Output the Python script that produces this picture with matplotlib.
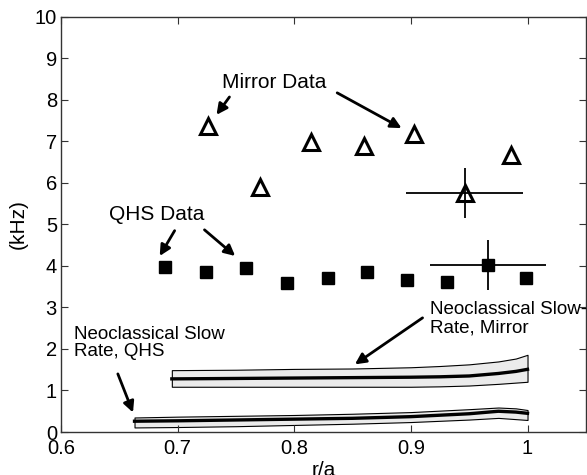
import matplotlib
matplotlib.use("Agg")
import matplotlib.pyplot as plt
import numpy as np

plt.rcParams['font.family'] = ['Liberation Sans', 'DejaVu Sans']

# Mirror data (open triangles)
mirror_x = [0.726, 0.771, 0.8145, 0.860, 0.903, 0.946, 0.9855]
mirror_y = [7.37, 5.90, 6.99, 6.89, 7.18, 5.76, 6.67]
# QHS data (filled squares)
qhs_x = [0.689, 0.7245, 0.759, 0.794, 0.829, 0.862, 0.897, 0.931, 0.966, 0.999]
qhs_y = [3.98, 3.86, 3.94, 3.58, 3.70, 3.86, 3.65, 3.61, 4.02, 3.72]

# representative error bars
mirror_err_x, mirror_err_y = [0.946], [5.76]
mirror_xerr, mirror_yerr = [0.05], [0.6]
qhs_err_x, qhs_err_y = [0.966], [4.02]
qhs_xerr, qhs_yerr = [0.05], [0.6]

# Neoclassical slow rate bands
band_m_x = [0.695, 0.75, 0.8, 0.85, 0.9, 0.925, 0.95, 0.975, 0.99, 1.0]
band_m_c = [1.28, 1.29, 1.30, 1.31, 1.32, 1.33, 1.35, 1.41, 1.46, 1.51]
band_m_hi = [1.49, 1.50, 1.52, 1.53, 1.56, 1.59, 1.63, 1.70, 1.77, 1.86]
band_m_lo = [1.09, 1.09, 1.09, 1.09, 1.09, 1.10, 1.12, 1.16, 1.19, 1.21]

band_q_x = [0.663, 0.7, 0.75, 0.8, 0.85, 0.9, 0.95, 0.975, 0.99, 1.0]
band_q_c = [0.26, 0.27, 0.29, 0.31, 0.33, 0.37, 0.44, 0.50, 0.48, 0.45]
band_q_hi = [0.35, 0.37, 0.39, 0.41, 0.44, 0.48, 0.55, 0.59, 0.57, 0.53]
band_q_lo = [0.11, 0.12, 0.14, 0.17, 0.20, 0.24, 0.30, 0.34, 0.31, 0.29]

xticks = [0.6, 0.7, 0.8, 0.9, 1.0]
xticklabels = ['0.6', '0.7', '0.8', '0.9', '1']
yticks = list(range(0, 11))

fig = plt.figure(figsize=(5.87, 4.75), dpi=100)
ax = fig.add_axes([0.104, 0.0905, 0.894, 0.874])

for bx, bc, bh, bl in [(band_m_x, band_m_c, band_m_hi, band_m_lo),
                       (band_q_x, band_q_c, band_q_hi, band_q_lo)]:
    ax.fill_between(bx, bl, bh, facecolor='#ebebeb', edgecolor='black', linewidth=0.8)
    ax.plot(bx, bc, color='black', linewidth=2.4)

ax.plot(mirror_x, mirror_y, linestyle='none', marker='^', markersize=11,
        markerfacecolor='none', markeredgecolor='black', markeredgewidth=2.2)
ax.plot(qhs_x, qhs_y, linestyle='none', marker='s', markersize=8.5,
        markerfacecolor='black', markeredgecolor='black')
ax.errorbar(mirror_err_x, mirror_err_y, xerr=mirror_xerr, yerr=mirror_yerr,
            fmt='none', ecolor='black', elinewidth=1.3, capsize=0)
ax.errorbar(qhs_err_x, qhs_err_y, xerr=qhs_xerr, yerr=qhs_yerr,
            fmt='none', ecolor='black', elinewidth=1.3, capsize=0)

ap = dict(arrowstyle='-|>', color='black', lw=2.0, mutation_scale=16, shrinkA=0, shrinkB=0)
ax.text(0.783, 8.43, 'Mirror Data', ha='center', va='center', fontsize=15)
ax.annotate('', xy=(0.7333, 7.64), xytext=(0.7444, 8.07), arrowprops=ap)
ax.annotate('', xy=(0.892, 7.32), xytext=(0.8368, 8.17), arrowprops=ap)

ax.text(0.682, 5.23, 'QHS Data', ha='center', va='center', fontsize=15)
ax.annotate('', xy=(0.6846, 4.24), xytext=(0.6974, 4.85), arrowprops=ap)
ax.annotate('', xy=(0.7493, 4.24), xytext=(0.723, 4.87), arrowprops=ap)

ax.text(0.611, 2.14, 'Neoclassical Slow\nRate, QHS', ha='left', va='center',
        fontsize=13.5, linespacing=1.05)
ax.annotate('', xy=(0.6617, 0.47), xytext=(0.6487, 1.40), arrowprops=ap)

ax.text(0.9168, 2.73, 'Neoclassical Slow-\nRate, Mirror', ha='left', va='center',
        fontsize=13.5, linespacing=1.05)
ax.annotate('', xy=(0.852, 1.63), xytext=(0.910, 2.75), arrowprops=ap)

ax.set_xlim(0.6, 1.05)
ax.set_ylim(0, 10)
ax.set_xticks(xticks)
ax.set_xticklabels(xticklabels)
ax.set_yticks(yticks)
ax.tick_params(direction='in', top=True, right=True, labelsize=14.5, length=5,
               width=0.8, colors='#333333', labelcolor='black')
ax.tick_params(axis='x', pad=5)
ax.tick_params(axis='y', pad=3)
for s in ax.spines.values():
    s.set_linewidth(1.0)
    s.set_color('#333333')
ax.set_xlabel('r/a', fontsize=15, labelpad=2)
ax.set_ylabel('(kHz)', fontsize=15, labelpad=5)

fig.savefig('out.png', dpi=100)
